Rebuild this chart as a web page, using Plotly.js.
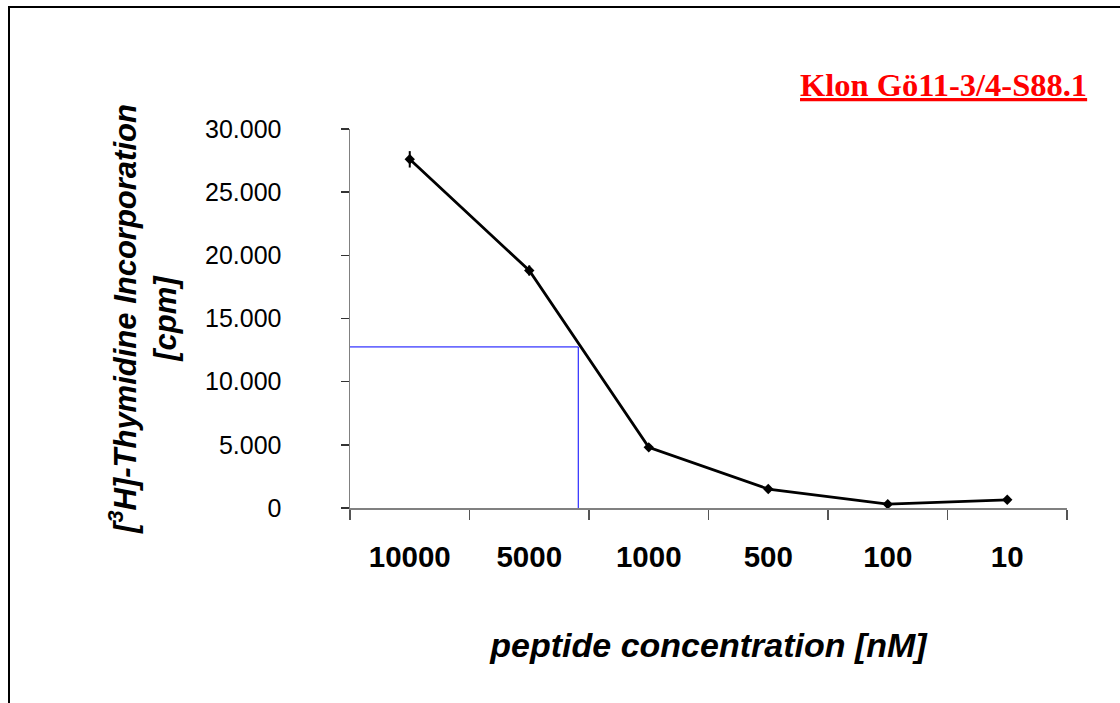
<!DOCTYPE html>
<html>
<head>
<meta charset="utf-8">
<script src="https://cdn.plot.ly/plotly-3.0.1.min.js"></script>
<style>
  html, body { margin: 0; padding: 0; background: #fff; }
  #wrap { position: relative; width: 1120px; height: 703px; }
  #chart { position: absolute; left: 0; top: 0; width: 1120px; height: 703px; }
  #frame { position: absolute; left: 8px; top: 6px; width: 1112px; height: 697px;
           border-left: 2px solid #000; border-top: 2px solid #000; pointer-events: none; }
</style>
</head>
<body>
<div id="wrap">
  <div id="chart"></div>
  <div id="frame"></div>
</div>
<script>
// Data
const concentrations = ["10000", "5000", "1000", "500", "100", "10"];
const incorporation = [27600, 18800, 4800, 1500, 300, 650];
const errors = [650, 400, 150, 100, 80, 80];
const halfMaxY = 12750;      // blue guide line level (cpm)
const halfMaxX = 1.41;       // blue guide line position (category index)

const trace = {
  type: 'scatter',
  mode: 'lines+markers',
  x: concentrations,
  y: incorporation,
  line: { color: '#000', width: 2.8 },
  marker: { symbol: 'diamond', size: 8, color: '#000' },
  error_y: { type: 'data', array: errors, visible: true, color: '#000', thickness: 2, width: 0 },
  showlegend: false,
  hoverinfo: 'x+y'
};

const layout = {
  width: 1120,
  height: 703,
  margin: { l: 350, r: 53, t: 129, b: 195 },
  paper_bgcolor: '#fff',
  plot_bgcolor: '#fff',
  separators: ',.',
  font: { family: 'Liberation Sans, Arial, sans-serif', color: '#000' },
  xaxis: {
    type: 'category',
    range: [-0.5, 5.5],
    showgrid: false,
    zeroline: false,
    showline: true,
    linecolor: '#808080',
    linewidth: 1.5,
    ticks: 'outside',
    tickson: 'boundaries',
    ticklen: 10,
    tickcolor: '#555',
    tickwidth: 1.5,
    ticklabelstandoff: 22,
    tickfont: { family: 'Liberation Sans, Arial, sans-serif', size: 29.5, color: '#000', weight: 'bold' },
    title: {
      text: '<b><i>peptide concentration [nM]</i></b>',
      font: { family: 'Liberation Sans, Arial, sans-serif', size: 34, color: '#000' },
      standoff: 61
    },
    automargin: false,
    fixedrange: true
  },
  yaxis: {
    range: [0, 30000],
    tickvals: [0, 5000, 10000, 15000, 20000, 25000, 30000],
    tickformat: ',d',
    showgrid: false,
    zeroline: false,
    showline: true,
    linecolor: '#808080',
    linewidth: 1.5,
    ticks: 'outside',
    ticklen: 8,
    tickcolor: '#333',
    tickwidth: 1.5,
    ticklabelstandoff: 54,
    tickfont: { family: 'Liberation Sans, Arial, sans-serif', size: 25, color: '#000' },
    title: {
      text: '<b><i>[<sup>3</sup>H]-Thymidine Incorporation<br>[cpm]</i></b>',
      font: { family: 'Liberation Sans, Arial, sans-serif', size: 31, color: '#000' },
      standoff: 19
    },
    automargin: false,
    fixedrange: true
  },
  shapes: [
    { type: 'line', xref: 'x', yref: 'y', x0: -0.5, x1: halfMaxX, y0: halfMaxY, y1: halfMaxY,
      line: { color: '#0000ff', width: 1 } },
    { type: 'line', xref: 'x', yref: 'y', x0: halfMaxX, x1: halfMaxX, y0: halfMaxY, y1: -300,
      line: { color: '#0000ff', width: 1 } }
  ],
  annotations: [
    { text: '<b><u>Klon Gö11-3/4-S88.1</u></b>', xref: 'paper', yref: 'paper',
      x: 1.0305, y: 1.115, xanchor: 'right', yanchor: 'middle', showarrow: false,
      font: { family: 'Liberation Serif, Times New Roman, serif', size: 32.5, color: '#ff0000' } }
  ]
};

Plotly.newPlot('chart', [trace], layout, { displayModeBar: false, staticPlot: true });
</script>
</body>
</html>
